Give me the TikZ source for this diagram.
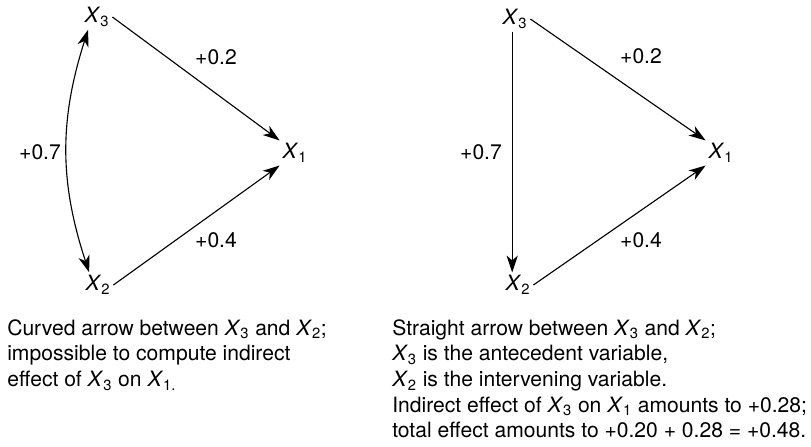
\documentclass[tikz,border=0pt]{standalone}
\usepackage{fontspec}
\setmainfont{TeX Gyre Heros}
\usepackage{tikz}
\usetikzlibrary{arrows.meta,positioning,calc}

\newcommand{\vx}[1]{\textit{X}\textsubscript{#1}}

\begin{document}
\begin{tikzpicture}[
    x=0.025cm, y=-0.025cm,
    font=\fontsize{15}{18.3}\selectfont,
    var/.style={inner sep=2pt},
    coef/.style={inner sep=1pt},
    note/.style={anchor=north west, align=left, inner sep=0pt},
    arrow/.style={-{Stealth[length=12pt, width=8pt, inset=3.5pt]}, line width=0.8pt},
    twoarrow/.style={{Stealth[length=12pt, width=8pt, inset=3.5pt]}-{Stealth[length=12pt, width=8pt, inset=3.5pt]}, line width=0.8pt}
]
\useasboundingbox (0,0) rectangle (811,447);

% Left diagram: curved arrow
\node[var] (l3) at (97,17) {\vx{3}};
\node[var] (l1) at (295,153) {\vx{1}};
\node[var] (l2) at (98,285) {\vx{2}};

\node[coef] (l31) at (216,57) {+0.2};
\node[coef] (l32) at (40,152) {+0.7};
\node[coef] (l21) at (216,240) {+0.4};

\draw[arrow] (l3.east) -- (l1.north west);
\draw[arrow] (l2.east) -- (l1.south west);
\draw[twoarrow] (l3.235) to[bend right=18] (l2.125);

% Right diagram: straight arrow
\node[var] (r3) at (515,19) {\vx{3}};
\node[var] (r1) at (721,153) {\vx{1}};
\node[var] (r2) at (518,285) {\vx{2}};

\node[coef] (r31) at (641,56) {+0.2};
\node[coef] (r32) at (481,152) {+0.7};
\node[coef] (r21) at (641,240) {+0.4};

\draw[arrow] (r3.east) -- (r1.north west);
\draw[arrow] (r2.east) -- (r1.south west);
\draw[arrow] ([xshift=-2pt]r3.south) -- ([xshift=-2pt]r3.south |- r2.north);

% Captions
\node[note] (capl) at (7,319) {Curved arrow between \vx{3} and \vx{2};\\
impossible to compute indirect\\
effect of \vx{3} on \vx{1.}};
\node[note] (capr) at (392,319) {Straight arrow between \vx{3} and \vx{2};\\
\vx{3} is the antecedent variable,\\
\vx{2} is the intervening variable.\\
Indirect effect of \vx{3} on \vx{1} amounts to +0.28;\\
total effect amounts to +0.20 + 0.28 = +0.48.};

\end{tikzpicture}
\end{document}
